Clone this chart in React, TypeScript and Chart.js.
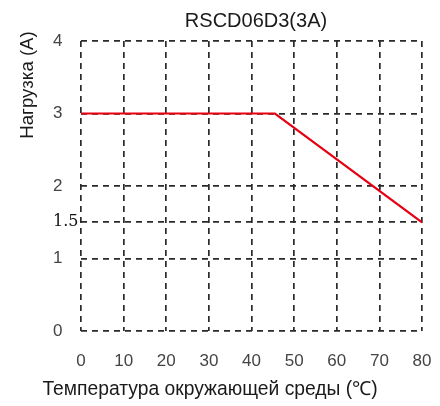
import React, { useEffect, useRef } from "react";
import { Chart, registerables } from "chart.js";

Chart.register(...registerables);

const chartTitle = "RSCD06D3(3A)";
const xAxisTitle = "Температура окружающей среды (℃)";
const yAxisTitle = "Нагрузка (A)";

const temperatures = [0, 45.5, 80];
const loads = [3, 3, 1.5];
const xTickValues = [0, 10, 20, 30, 40, 50, 60, 70, 80];
const yTickValues = [0, 1, 1.5, 2, 3, 4];

const SANS = '"Liberation Sans", Arial, sans-serif';

const textPlugin = {
  id: "customTexts",
  afterDraw(chart: any) {
    const { ctx, chartArea } = chart;
    ctx.save();
    ctx.fillStyle = "#1a1a1a";
    ctx.textBaseline = "alphabetic";
    ctx.textAlign = "center";
    ctx.font = `20px ${SANS}`;
    ctx.fillText(chartTitle, chartArea.left + 175, 27);
    ctx.font = `19.3px ${SANS}`;
    ctx.fillText(xAxisTitle, chartArea.left + 129, 395);
    ctx.translate(33, 85);
    ctx.rotate(-Math.PI / 2);
    ctx.font = `18.6px ${SANS}`;
    ctx.fillText(yAxisTitle, 0, 0);
    ctx.restore();
  },
};

export default function App() {
  const canvasRef = useRef<HTMLCanvasElement | null>(null);

  useEffect(() => {
    if (!canvasRef.current) return;
    const gridColor = "#2a2a2a";
    const gridWidth = 1.7;
    const chart = new Chart(canvasRef.current, {
      type: "line",
      data: {
        datasets: [
          {
            data: temperatures.map((t, i) => ({ x: t, y: loads[i] })),
            borderColor: "#e60012",
            borderWidth: 2.2,
            pointRadius: 0,
            fill: false,
            tension: 0,
          },
        ],
      },
      plugins: [textPlugin],
      options: {
        animation: false,
        responsive: false,
        devicePixelRatio: 1,
        layout: { padding: { left: 53, right: 18, top: 41, bottom: 0 } },
        plugins: { legend: { display: false }, title: { display: false }, tooltip: { enabled: false } },
        scales: {
          x: {
            type: "linear",
            min: 0,
            max: 80,
            afterBuildTicks: (scale: any) => {
              scale.ticks = xTickValues.map((v) => ({ value: v }));
            },
            afterFit: (scale: any) => {
              scale.height = 75;
            },
            grid: {
              color: gridColor,
              lineWidth: gridWidth,
              drawTicks: true,
              tickLength: 20,
              tickColor: "rgba(0,0,0,0)",
            },
            border: { display: false, dash: [6, 5] },
            ticks: {
              padding: 0,
              color: "#444444",
              font: { family: SANS, size: 17 },
              maxRotation: 0,
              autoSkip: false,
            },
          },
          y: {
            type: "linear",
            min: 0,
            max: 4,
            afterBuildTicks: (scale: any) => {
              scale.ticks = yTickValues.map((v) => ({ value: v }));
            },
            afterFit: (scale: any) => {
              scale.width = 28;
            },
            grid: { color: gridColor, lineWidth: gridWidth, drawTicks: false },
            border: { display: false, dash: [6, 5] },
            ticks: {
              crossAlign: "far",
              padding: 3,
              autoSkip: false,
              color: (ctx: any) => (ctx.tick && ctx.tick.value === 1.5 ? "#111111" : "#444444"),
              font: (ctx: any) =>
                ctx.tick && ctx.tick.value === 1.5
                  ? { family: '"DejaVu Serif", serif', size: 16 }
                  : { family: SANS, size: 17 },
              callback: (v: any) => String(v),
            },
          },
        },
      },
    } as any);
    return () => chart.destroy();
  }, []);

  return (
    <div style={{ position: "fixed", left: 0, top: 0, width: 440, height: 406, background: "#ffffff" }}>
      <canvas ref={canvasRef} width={440} height={406} style={{ display: "block" }} />
    </div>
  );
}
